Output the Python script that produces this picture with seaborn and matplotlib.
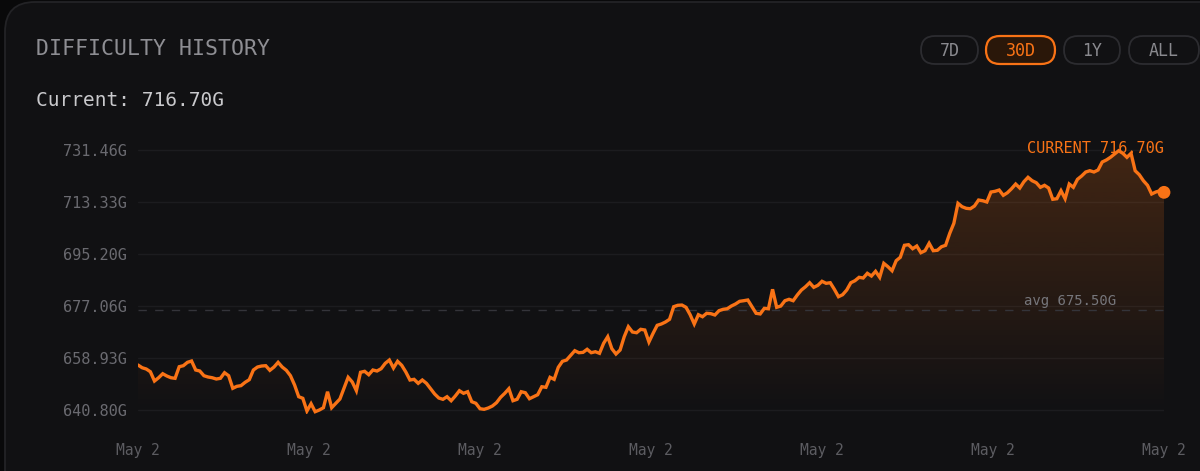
import numpy as np
import pandas as pd
import matplotlib
matplotlib.use("Agg")
import matplotlib.pyplot as plt
import matplotlib.colors as mcolors
import seaborn as sns
from matplotlib.patches import FancyBboxPatch

# ---------------- data ----------------
title = "DIFFICULTY HISTORY"
current_label = "Current: 716.70G"
current_value = 716.70
average_value = 675.50
range_buttons = ["7D", "30D", "1Y", "ALL"]
active_range = "30D"

difficulty = [
    656.49, 655.55, 655.10, 654.15, 650.91, 652.06, 653.46, 652.66, 652.06, 651.85,
    655.90, 656.25, 657.43, 657.89, 654.75, 654.40, 652.76, 652.31, 652.06, 651.61,
    651.85, 653.81, 652.76, 648.37, 649.06, 649.30, 650.46, 651.37, 654.75, 655.79,
    656.14, 656.25, 654.64, 655.79, 657.43, 655.79, 654.64, 652.76, 649.52, 645.44,
    644.88, 640.45, 643.00, 640.21, 640.80, 641.60, 647.18, 641.60, 643.14, 644.64,
    648.37, 652.20, 650.56, 647.53, 653.95, 654.29, 653.11, 654.75, 654.40, 655.20,
    657.08, 658.23, 655.44, 657.78, 656.39, 654.05, 651.26, 651.50, 650.11, 651.26,
    650.11, 648.23, 646.38, 644.98, 644.53, 645.44, 644.04, 645.68, 647.53, 646.62,
    647.18, 643.69, 643.14, 641.25, 641.04, 641.50, 642.19, 643.35, 645.23, 646.62,
    648.23, 644.04, 644.53, 647.18, 646.83, 644.74, 645.44, 646.13, 648.92, 648.72,
    652.20, 651.50, 655.69, 657.78, 658.23, 659.87, 661.48, 660.78, 660.90, 661.97,
    660.78, 661.13, 660.57, 664.06, 666.36, 662.17, 660.33, 661.72, 666.36, 669.85,
    668.00, 667.75, 668.94, 668.70, 664.51, 667.54, 670.33, 670.79, 671.48, 672.43,
    676.82, 677.31, 677.40, 676.61, 674.03, 670.79, 674.03, 673.33, 674.52, 674.40,
    673.93, 675.43, 675.91, 676.12, 677.06, 677.76, 678.70, 678.91, 679.16, 676.82,
    674.52, 674.30, 676.26, 676.10, 682.89, 676.61, 677.06, 678.91, 679.40, 678.91,
    680.90, 682.64, 683.79, 685.19, 683.58, 684.28, 685.68, 684.98, 685.19, 682.89,
    680.31, 681.00, 682.64, 685.19, 685.89, 687.07, 686.83, 688.47, 687.52, 689.16,
    687.07, 691.95, 690.77, 689.37, 692.86, 694.05, 698.23, 698.44, 697.04, 697.99,
    695.65, 696.35, 698.93, 696.35, 696.50, 697.74, 698.23, 702.41, 705.90, 712.87,
    711.69, 711.13, 710.99, 711.93, 714.02, 713.78, 713.33, 716.81, 717.06, 717.51,
    715.66, 716.57, 717.97, 719.60, 718.21, 720.41, 721.94, 720.75, 720.06, 718.45,
    719.15, 718.21, 714.27, 714.48, 717.27, 714.48, 719.60, 718.45, 721.24, 722.39,
    723.79, 724.24, 723.79, 724.49, 727.28, 727.97, 728.91, 730.06, 731.22, 730.31,
    728.91, 730.31, 724.24, 722.85, 720.75, 719.15, 716.12, 716.81, 717.27, 716.70,
]
x_tick_labels = ["May 2", "May 2", "May 2", "May 2", "May 2", "May 2", "May 2"]
y_tick_values = [640.80, 658.93, 677.06, 695.20, 713.33, 731.46]
y_tick_labels = ["640.80G", "658.93G", "677.06G", "695.20G", "713.33G", "731.46G"]

# ---------------- style ----------------
ORANGE = "#f97316"
CARD = "#111113"
OUTER = "#09090a"

sns.set_theme(style="dark")
plt.rcParams["font.family"] = ["DejaVu Sans Mono", "DejaVu Sans"]

fig = plt.figure(figsize=(12, 4.71), dpi=100)
fig.patch.set_facecolor(OUTER)

# background / card layer in pixel coordinates
bg = fig.add_axes([0, 0, 1, 1], zorder=0)
bg.set_xlim(0, 1200)
bg.set_ylim(471, 0)
bg.axis("off")
bg.add_patch(FancyBboxPatch((5, 2), 1400, 700,
                            boxstyle="round,pad=0,rounding_size=30",
                            fc=CARD, ec="#232326", lw=1.3))

bg.text(36, 49, title, color="#8e8e93", fontsize=15.5, va="center", ha="left")
bg.text(36, 101, current_label, color="#c9c9cc", fontsize=14, va="center", ha="left")

# range buttons
btn_x = [921, 986, 1064, 1129]
btn_w = [57, 69, 56, 70]
for lbl, bx, bw in zip(range_buttons, btn_x, btn_w):
    active = lbl == active_range
    bg.add_patch(FancyBboxPatch((bx, 36), bw, 28,
                                boxstyle="round,pad=0,rounding_size=14",
                                fc="#2a1709" if active else CARD,
                                ec=ORANGE if active else "#2c2c30",
                                lw=1.6 if active else 1.3))
    bg.text(bx + bw / 2, 50.5, lbl, color=ORANGE if active else "#8a8a8f",
            fontsize=12, ha="center", va="center")

# ---------------- main chart ----------------
n = len(difficulty)
df = pd.DataFrame({"idx": np.arange(n), "difficulty": difficulty})
ylo, yhi = 639.41, 734.95

ax = fig.add_axes([138 / 1200, 1 - 414 / 471, 1026 / 1200, 274 / 471], zorder=1)
ax.set_facecolor("none")
for s in ax.spines.values():
    s.set_visible(False)

# grid lines
for v in y_tick_values:
    ax.axhline(v, color="#1c1c1f", lw=1.0, zorder=0)

# gradient fill under the line
poly = ax.fill_between(df["idx"], df["difficulty"], ylo, color="none", lw=0)
clip_path = poly.get_paths()[0]
grad = np.zeros((256, 1, 4))
grad[..., :3] = mcolors.to_rgb(ORANGE)
grad[..., 3] = np.linspace(0.21, 0.0, 256)[:, None]
im = ax.imshow(grad, extent=[0, n - 1, ylo, max(difficulty)], origin="upper",
               aspect="auto", zorder=1, interpolation="bilinear")
im.set_clip_path(clip_path, transform=ax.transData)

# average dashed line
ax.axhline(average_value, color="#34343a", lw=1.0, ls=(0, (6, 6)), zorder=2)
ax.text(0.908, average_value + 3.3, f"avg {average_value:.2f}G", transform=ax.get_yaxis_transform(),
        color="#76767b", fontsize=10, ha="center", va="center", zorder=3)

sns.lineplot(data=df, x="idx", y="difficulty", ax=ax, color=ORANGE, lw=2.4,
             zorder=4, solid_joinstyle="miter")
ax.scatter([n - 1], [difficulty[-1]], s=85, color=ORANGE, zorder=6,
           edgecolors="none", clip_on=False)

ax.text(n - 1, y_tick_values[-1] + 0.6, f"CURRENT {current_value:.2f}G", color=ORANGE,
        fontsize=11, ha="right", va="center", zorder=6)

ax.set_xlim(0, n - 1)
ax.set_ylim(ylo, yhi)
ax.set_xticks(np.linspace(0, n - 1, len(x_tick_labels)))
ax.set_xticklabels(x_tick_labels, color="#5c5c61", fontsize=10.5)
ax.set_yticks(y_tick_values)
ax.set_yticklabels(y_tick_labels, color="#6a6a70", fontsize=11)
ax.tick_params(axis="x", length=0, pad=21)
ax.tick_params(axis="y", length=0, pad=8)
ax.set_xlabel("")
ax.set_ylabel("")
ax.grid(False)

fig.savefig("out.png", dpi=100, facecolor=fig.get_facecolor())
